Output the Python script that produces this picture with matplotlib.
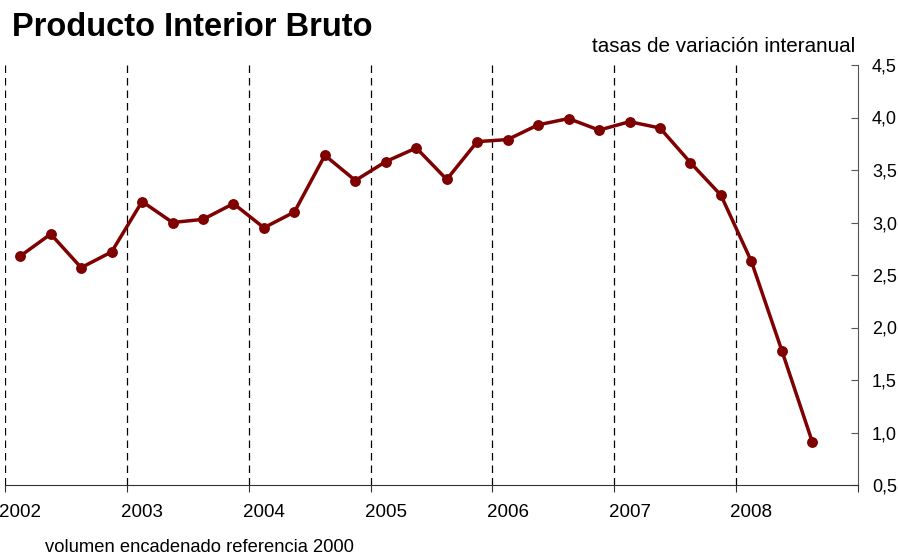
import matplotlib.pyplot as plt
import numpy as np

plt.rcParams['font.family'] = ['Liberation Sans', 'DejaVu Sans']

# Quarterly GDP growth 2002Q1 - 2008Q3 (tasas de variacion interanual)
years = ['2002', '2003', '2004', '2005', '2006', '2007', '2008']
pib = [2.68, 2.89, 2.57, 2.72,
       3.20, 3.00, 3.03, 3.18,
       2.95, 3.10, 3.64, 3.40,
       3.58, 3.71, 3.41, 3.77,
       3.79, 3.93, 3.99, 3.88,
       3.96, 3.90, 3.57, 3.26,
       2.63, 1.78, 0.91]
y_ticks = [0.5, 1.0, 1.5, 2.0, 2.5, 3.0, 3.5, 4.0, 4.5]

fig = plt.figure(figsize=(8.98, 5.54), dpi=100)
ax = fig.add_axes([5/898, 1 - 485/554, 853/898, 420/554])

x = np.arange(len(pib))
n_cat = 4 * len(years)

# dashed year separators
for k in range(len(years)):
    ax.axvline(4 * k - 0.5, color='black', linestyle=(0, (6, 4)), linewidth=0.9, zorder=1)

ax.plot(x, pib, color='#7f0000', linewidth=2.5, marker='o', markersize=6.8, zorder=3)

ax.set_xlim(-0.5, n_cat - 0.5)
ax.set_ylim(0.5, 4.5)

ax.spines['top'].set_visible(False)
ax.spines['left'].set_visible(False)
ax.spines['right'].set_color('#555555')
ax.spines['bottom'].set_color('#333333')

ax.yaxis.tick_right()
ax.set_yticks(y_ticks)
ax.set_yticklabels([('%.1f' % v).replace('.', ',') for v in y_ticks], fontsize=13)
ax.tick_params(axis='y', direction='in', length=5, pad=10, color='#555555')

ax.set_xticks([4 * k - 0.5 for k in range(len(years) + 1)])
ax.set_xticklabels([])
ax.set_xticks([4 * k for k in range(len(years))], minor=True)
ax.set_xticklabels(years, minor=True, fontsize=13.5)
ax.tick_params(axis='x', which='major', direction='out', length=5, color='#333333')
ax.tick_params(axis='x', which='minor', length=0, pad=14)

fig.text(12/898, 1 - 27/554, 'Producto Interior Bruto', fontsize=23.5, fontweight='bold',
         ha='left', va='center')
fig.text(855/898, 1 - 46/554, 'tasas de variación interanual', fontsize=14.9,
         ha='right', va='center')
fig.text(45/898, 1 - 547/554, 'volumen encadenado referencia 2000', fontsize=13.2,
         ha='left', va='center')

fig.savefig('out.png', dpi=100)
